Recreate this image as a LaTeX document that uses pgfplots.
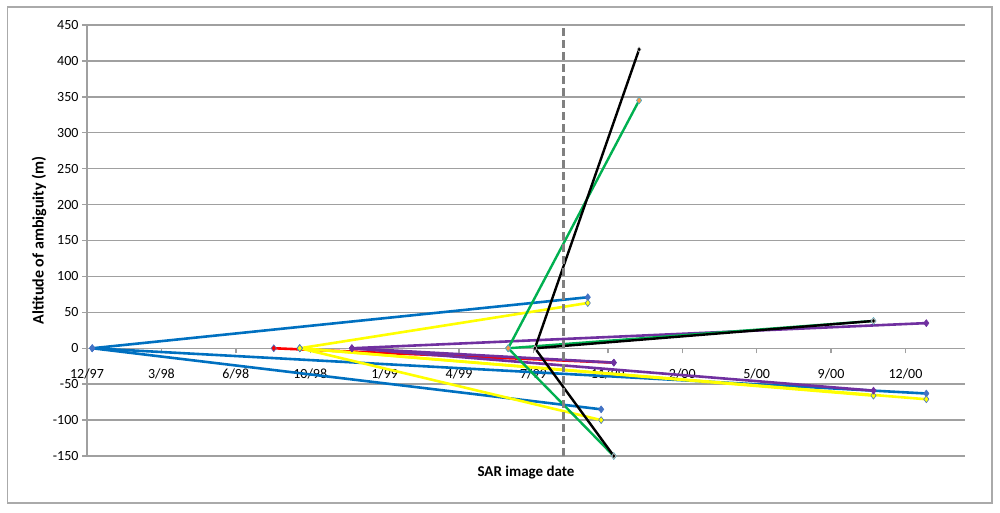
\documentclass[border=0pt]{standalone}
\usepackage{fontspec}
\setmainfont{Carlito}
\usepackage{pgfplots}
\pgfplotsset{compat=1.18}

\definecolor{xlblue}{RGB}{0,112,192}
\definecolor{xlmark}{RGB}{68,114,196}
\definecolor{xlyellow}{RGB}{255,255,0}
\definecolor{xlred}{RGB}{255,0,0}
\definecolor{xlpurple}{RGB}{112,48,160}
\definecolor{xlgreen}{RGB}{0,176,80}
\definecolor{xlteal}{RGB}{75,172,198}
\definecolor{xlorange}{RGB}{247,150,70}
\definecolor{gridgray}{RGB}{160,160,160}
\definecolor{framegray}{RGB}{170,170,170}
\definecolor{dashgray}{RGB}{128,128,128}

\begin{document}
\begin{tikzpicture}
\path (0,0) rectangle (1000pt,512pt);
\draw[framegray, line width=1.6pt] (7.5pt,9pt) rectangle (992pt,505pt);
\begin{axis}[
    at={(87pt,56pt)}, anchor=south west,
    scale only axis, width=878pt, height=431pt,
    xmin=0, xmax=1180, ymin=-150, ymax=450,
    axis y line=left, axis x line=middle,
    axis line style={gridgray, line width=1.4pt, -},
    hide obscured x ticks=false, hide obscured y ticks=false,
    xtick={0,100,...,1100},
    xticklabels={12/97,3/98,6/98,10/98,1/99,4/99,7/99,11/99,2/00,5/00,9/00,12/00},
    ytick={-150,-100,...,450},
    ymajorgrids, grid style={gridgray, line width=1.4pt},
    tick style={gridgray, line width=1.4pt},
    tick align=outside, major tick length=5pt,
    ticklabel style={font=\fontsize{14}{16}\selectfont},
    xticklabel style={yshift=-12pt},
    /pgf/number format/assume math mode=true,
    xlabel={\bfseries SAR image date},
    ylabel={\bfseries Altitude of ambiguity (m)},
    xlabel style={at={(axis description cs:0.5,0)}, anchor=center, yshift=-17pt, font=\fontsize{15}{17}\selectfont},
    ylabel style={at={(axis description cs:-0.0547,0.5)}, anchor=center, font=\fontsize{16}{18}\selectfont},
    clip=false,
    blueS/.style={color=xlblue, line width=2.6pt, line join=round, mark=diamond*, mark size=3.5pt, mark options={fill=xlmark, draw=xlmark, line width=0.6pt}},
    redS/.style={color=xlred, line width=2.6pt, line join=round, mark=diamond*, mark size=3.5pt, mark options={fill=xlred, draw=xlmark, line width=0.6pt}},
    yelS/.style={color=xlyellow, line width=2.6pt, line join=round, mark=diamond*, mark size=3.5pt, mark options={fill=xlyellow, draw=xlmark, line width=0.6pt}},
    purS/.style={color=xlpurple, line width=2.6pt, line join=round, mark=diamond*, mark size=3.5pt, mark options={fill=xlpurple, draw=xlpurple, line width=0.6pt}},
    grnS/.style={color=xlgreen, line width=2.4pt, line join=round, mark=diamond*, mark size=3.5pt, mark options={fill=xlorange, draw=xlteal, line width=0.6pt}},
    blkS/.style={color=black, line width=2.4pt, line join=round, mark=diamond*, mark size=2.6pt, mark options={fill=black, draw=gray!40, line width=0.5pt}},
]
% master 12/97 (blue)
\addplot[blueS] coordinates {(7,0) (673,71)};
\addplot[blueS] coordinates {(7,0) (691,-85)};
\addplot[blueS] coordinates {(7,0) (1128,-63)};
% master (red)
\addplot[redS] coordinates {(251,0) (708,-20)};
% master (yellow)
\addplot[yelS] coordinates {(286,0) (673,63)};
\addplot[yelS] coordinates {(286,0) (691,-100)};
\addplot[yelS] coordinates {(286,0) (1057,-66)};
\addplot[yelS] coordinates {(286,0) (1128,-71)};
% master (purple)
\addplot[purS] coordinates {(356,0) (708,-20)};
\addplot[purS] coordinates {(356,0) (1057,-59)};
\addplot[purS] coordinates {(356,0) (1128,35)};
% master (green)
\addplot[grnS] coordinates {(566,0) (742,345)};
\addplot[grnS] coordinates {(566,0) (708,-150)};
\addplot[grnS] coordinates {(566,0) (1057,38)};
% master (black)
\addplot[blkS] coordinates {(602,0) (742,416)};
\addplot[blkS] coordinates {(602,0) (708,-150)};
\addplot[blkS] coordinates {(602,0) (1057,38)};
% reference date
\addplot[dashgray, line width=3pt, dash pattern=on 8pt off 4pt] coordinates {(641,-150) (641,450)};
\end{axis}
\end{tikzpicture}
\end{document}
